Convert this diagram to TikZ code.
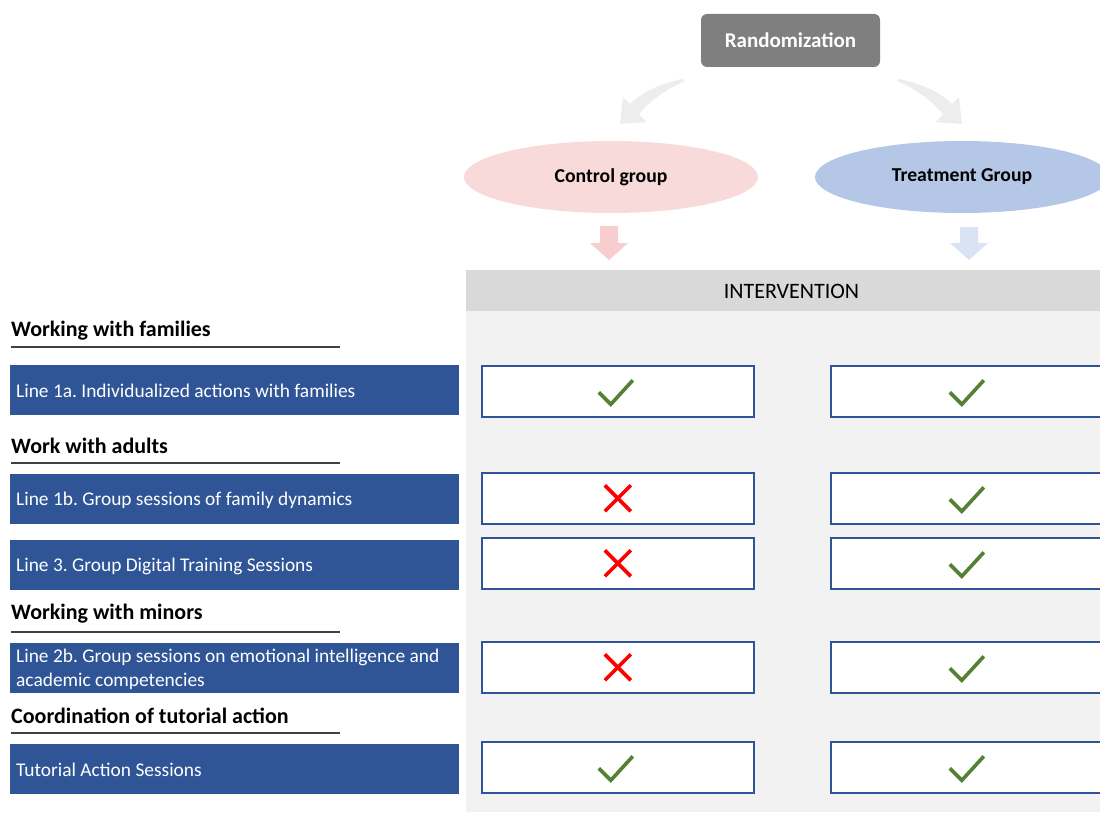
\documentclass[tikz,border=0pt]{standalone}
\usepackage{fontspec}
\setmainfont{Carlito}
\usetikzlibrary{shapes.geometric,calc}
\definecolor{navy}{HTML}{2F5597}
\definecolor{randgray}{HTML}{7F7F7F}
\definecolor{curvegray}{HTML}{EDEDED}
\definecolor{ctrlfill}{HTML}{F9DADA}
\definecolor{ctrlarrow}{HTML}{F7CDCD}
\definecolor{treatfill}{HTML}{B4C7E7}
\definecolor{treatarrow}{HTML}{DAE3F3}
\definecolor{panel}{HTML}{F2F2F2}
\definecolor{band}{HTML}{D9D9D9}
\definecolor{okgreen}{HTML}{548235}
\definecolor{nored}{HTML}{FF0000}
\definecolor{rulegray}{HTML}{404040}
\frenchspacing
\begin{document}
\begin{tikzpicture}[x=1pt,y=-1pt,
  randbox/.style={draw=none,fill=randgray,rounded corners=6pt,minimum width=179pt,minimum height=53pt,
    text=white,font=\fontsize{21}{25}\selectfont\bfseries},
  group/.style={ellipse,draw=none,minimum width=294pt,minimum height=72pt,
    font=\fontsize{19.7}{23}\selectfont\bfseries},
  heading/.style={anchor=west,inner sep=0pt,font=\fontsize{22}{26}\selectfont\bfseries},
  linebox/.style={anchor=north west,fill=navy,minimum width=449pt,minimum height=50pt,inner sep=0pt},
  linetext/.style={anchor=west,text=white,inner sep=0pt,align=left,font=\fontsize{19.4}{24}\selectfont},
  markbox/.style={anchor=north west,draw=navy,line width=1.6pt,fill=white,minimum height=51pt,inner sep=0pt},
  checkline/.style={draw=okgreen,line width=3.6pt},
  crossline/.style={draw=nored,line width=3.6pt},
  underline/.style={draw=rulegray,line width=1.1pt},
  check/.pic={\draw[checkline] (-17,0) -- (-5,12) -- (17,-12);},
  cross/.pic={\draw[crossline] (-13,-13) -- (13,13) (-13,13) -- (13,-13);}
]
\useasboundingbox (0,0) rectangle (1100,813);
\clip (0,0) rectangle (1100,813);

% intervention panel with header band
\fill[panel] (466,270) rectangle (1100,812);
\node[fill=band,anchor=north west,minimum width=634pt,minimum height=41pt,inner sep=0pt] (interv) at (466,270) {};
\node (intervlabel) at (791.5,291) {\fontsize{22}{26}\selectfont INTERVENTION};

% randomization and the two groups
\node[randbox] (rand) at (790.5,40.5) {Randomization};
\node[group,fill=ctrlfill] (ctrl) at (611,177) {Control group};
\node[group,fill=treatfill] (treat) at (962,177) {Treatment Group};

% curved allocation arrows (tapered body, wide head)
\fill[curvegray] (682,79) .. controls (660,84) and (642,92) .. (630,104)
  -- (623,97) -- (620,124) -- (646,122) -- (639,114)
  .. controls (652,99) and (668,88) .. (685,81) -- cycle;
\fill[curvegray] (900,79) .. controls (922,84) and (940,92) .. (952,104)
  -- (959,97) -- (962,124) -- (936,122) -- (943,114)
  .. controls (930,99) and (914,88) .. (897,81) -- cycle;

% down arrows into the intervention
\fill[ctrlarrow] (600,226) -- (618,226) -- (618,243) -- (628,243) -- (609,260)
  -- (590,243) -- (600,243) -- cycle;
\fill[treatarrow] (960,227) -- (978,227) -- (978,243) -- (988,243) -- (969,260)
  -- (950,243) -- (960,243) -- cycle;

% section headings
\node[heading] (h1) at (11,331) {Working with families};
\draw[underline] (11,347) -- (340,347);
\node[heading] (h2) at (11,446) {Work with adults};
\draw[underline] (11,463) -- (340,463);
\node[heading] (h3) at (11,614) {Working with minors};
\draw[underline] (11,632) -- (340,632);
\node[heading] (h4) at (11,716) {Coordination of tutorial action};
\draw[underline] (11,733) -- (340,733);

% action lines
\node[linebox] (l1) at (10,365) {};
\node[linetext] (l1t) at ($(l1.west)+(6,1)$) {Line 1a. Individualized actions with families};
\node[linebox] (l2) at (10,474) {};
\node[linetext] (l2t) at ($(l2.west)+(6,1)$) {Line 1b. Group sessions of family dynamics};
\node[linebox] (l3) at (10,540) {};
\node[linetext] (l3t) at ($(l3.west)+(6,1)$) {Line 3. Group Digital Training Sessions};
\node[linebox] (l4) at (10,643) {};
\node[linetext] (l4t) at ($(l4.west)+(6,1)$) {Line 2b. Group sessions on emotional intelligence and\\academic competencies};
\node[linebox] (l5) at (10,744) {};
\node[linetext] (l5t) at ($(l5.west)+(6,1)$) {Tutorial Action Sessions};

% control column
\node[markbox,minimum width=272pt] (c1) at (481,365) {};
\node[markbox,minimum width=272pt] (c2) at (481,472) {};
\node[markbox,minimum width=272pt] (c3) at (481,537) {};
\node[markbox,minimum width=272pt] (c4) at (481,641) {};
\node[markbox,minimum width=272pt] (c5) at (481,741) {};
% treatment column
\node[markbox,minimum width=290pt] (t1) at (830,365) {};
\node[markbox,minimum width=290pt] (t2) at (830,472) {};
\node[markbox,minimum width=290pt] (t3) at (830,537) {};
\node[markbox,minimum width=290pt] (t4) at (830,641) {};
\node[markbox,minimum width=290pt] (t5) at (830,741) {};

% marks
\pic at ($(c1.center)+(-2,1)$) {check};
\pic at ($(c2.center)+(0,0)$) {cross};
\pic at ($(c3.center)+(0,0)$) {cross};
\pic at ($(c4.center)+(0,0)$) {cross};
\pic at ($(c5.center)+(-2,1)$) {check};
\pic at ($(t1.center)+(-9,1)$) {check};
\pic at ($(t2.center)+(-9,1)$) {check};
\pic at ($(t3.center)+(-9,1)$) {check};
\pic at ($(t4.center)+(-9,1)$) {check};
\pic at ($(t5.center)+(-9,1)$) {check};
\end{tikzpicture}
\end{document}
